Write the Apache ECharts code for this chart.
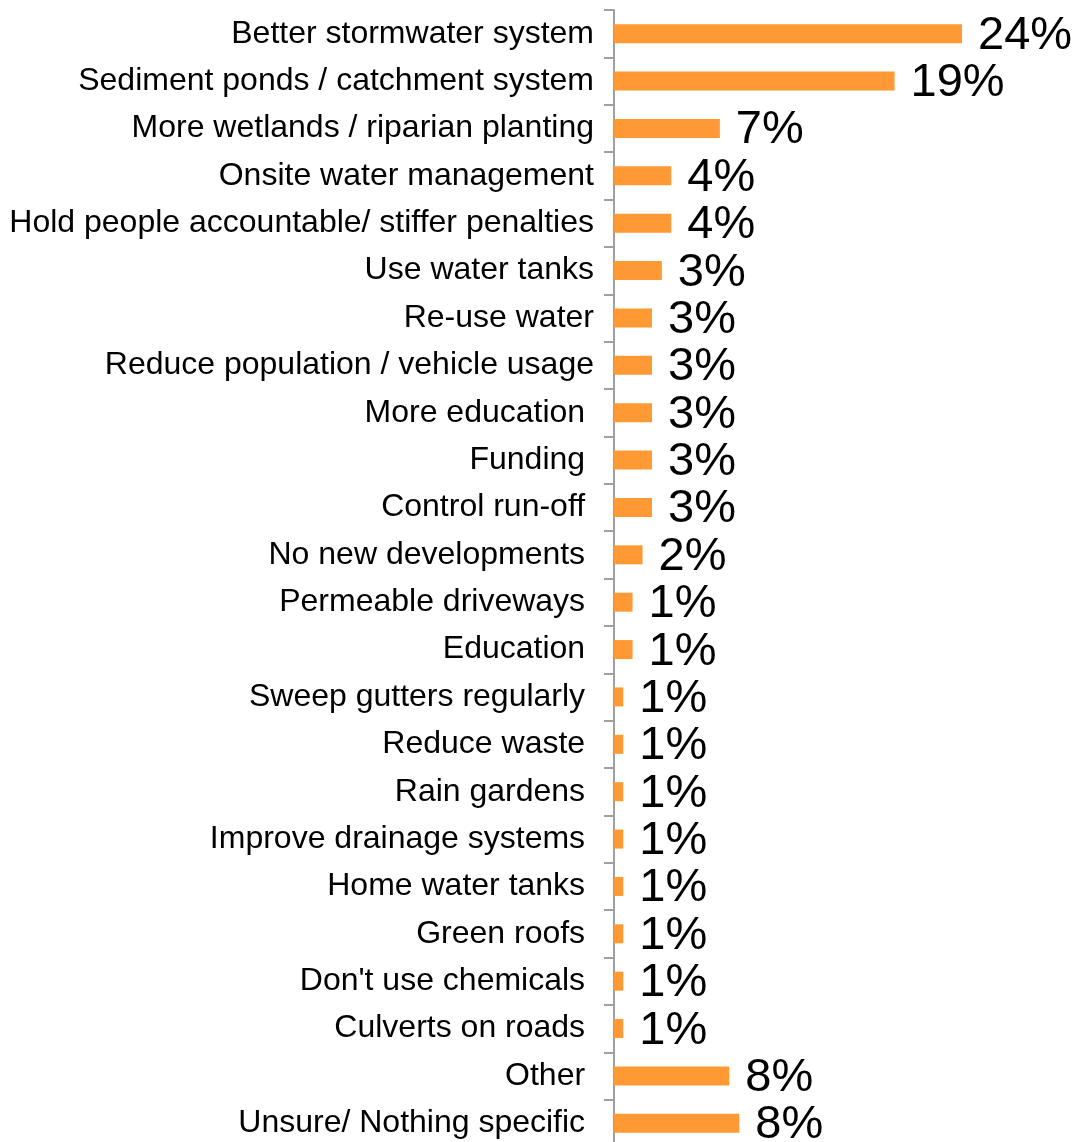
<!DOCTYPE html>
<html>
<head>
<meta charset="utf-8">
<script src="https://cdn.jsdelivr.net/npm/echarts@6/dist/echarts.min.js"></script>
<style>
html,body{margin:0;padding:0;background:#fff;overflow:hidden;}
#chart{width:1079px;height:1160px;}
</style>
</head>
<body>
<div id="chart"></div>
<script>
const categories = [
  "Better stormwater system",
  "Sediment ponds / catchment system",
  "More wetlands / riparian planting",
  "Onsite water management",
  "Hold people accountable/ stiffer penalties",
  "Use water tanks",
  "Re-use water",
  "Reduce population / vehicle usage",
  "More education ",
  "Funding ",
  "Control run-off ",
  "No new developments ",
  "Permeable driveways ",
  "Education ",
  "Sweep gutters regularly ",
  "Reduce waste ",
  "Rain gardens ",
  "Improve drainage systems ",
  "Home water tanks ",
  "Green roofs ",
  "Don't use chemicals ",
  "Culverts on roads ",
  "Other ",
  "Unsure/ Nothing specific "
];
const values = [24, 19.35, 7.3, 3.95, 3.95, 3.3, 2.62, 2.62, 2.62, 2.62, 2.62, 1.97, 1.28, 1.28,
  0.64, 0.64, 0.64, 0.64, 0.64, 0.64, 0.64, 0.64, 7.95, 8.64];
const valueLabels = ["24%", "19%", "7%", "4%", "4%", "3%", "3%", "3%", "3%", "3%", "3%", "2%", "1%", "1%",
  "1%", "1%", "1%", "1%", "1%", "1%", "1%", "1%", "8%", "8%"];

const chart = echarts.init(document.getElementById('chart'), null, {renderer: 'canvas'});
chart.setOption({
  animation: false,
  backgroundColor: '#ffffff',
  grid: {left: 614, top: 10, width: 435, height: 1137, containLabel: false},
  xAxis: {type: 'value', min: 0, max: 30, show: false, splitLine: {show: false}},
  yAxis: {
    type: 'category',
    data: categories,
    inverse: true,
    axisLine: {show: true, lineStyle: {color: '#a0a0a0', width: 2}},
    axisTick: {show: true, length: 10, lineStyle: {color: '#a0a0a0', width: 2}},
    axisLabel: {
      margin: 20,
      fontSize: 32,
      color: '#000000',
      fontFamily: '"Liberation Sans", Arial, sans-serif'
    },
    splitLine: {show: false}
  },
  series: [{
    type: 'bar',
    data: values,
    barWidth: 19,
    itemStyle: {color: '#FF9933'},
    label: {
      show: true,
      position: 'right',
      distance: 16,
      offset: [0, 2],
      fontSize: 47,
      color: '#000000',
      fontFamily: '"Liberation Sans", Arial, sans-serif',
      formatter: p => valueLabels[p.dataIndex]
    }
  }]
});
</script>
</body>
</html>
